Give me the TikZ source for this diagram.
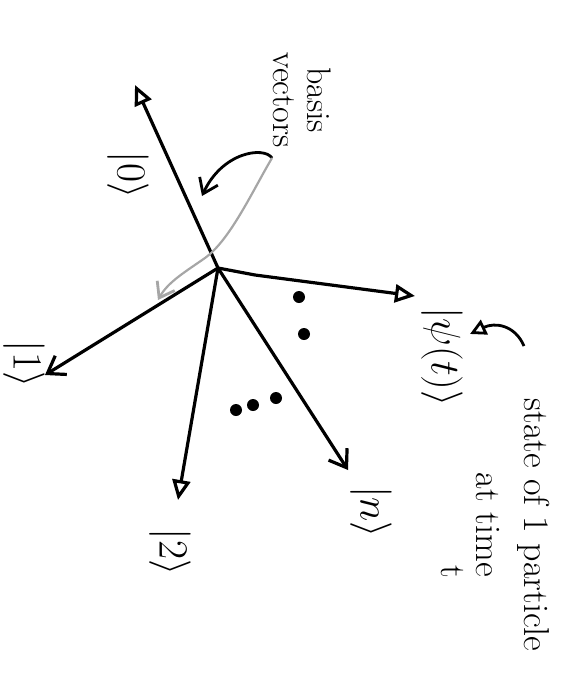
\documentclass[tikz,border=0pt]{standalone}
\usepackage{amsmath,amssymb}
\usepackage{tikz}
\usetikzlibrary{arrows.meta}
\usetikzlibrary{positioning,calc}
\tikzset{
  vec/.style={line width=1.6pt,-{Triangle[open,length=10pt,width=9pt,line width=1.6pt]}},
  vecbarb/.style={line width=1.6pt,-{Straight Barb[length=8pt,width=11pt,line width=1.6pt]}},
  ketlbl/.style={rotate=-90,font=\fontsize{22}{26}\selectfont},
  notelbl/.style={rotate=-90,align=center,font=\fontsize{18}{24}\selectfont},
  notearrow/.style={line width=1.4pt,-{Straight Barb[length=7pt,width=10pt,line width=1.4pt]}}
}

\begin{document}
\begin{tikzpicture}[x=0.5pt,y=-0.5pt]
    \useasboundingbox (0,0) rectangle (580,675);
    % origin and tips of the basis vectors
    \coordinate (o) at (218,268);
    \coordinate (e0) at (135,85);
    \coordinate (e1) at (45,375);
    \coordinate (e2) at (178,500);
    \coordinate (en) at (348,470);
    \coordinate (psi) at (415,296);
    % basis vectors
    \draw[vec] (o) -- (e0);
    \draw[vecbarb] (o) -- (e1);
    \draw[vec] (o) -- (e2);
    \draw[vecbarb] (o) -- (en);
    % the state vector
    \draw[vec] (o) -- (255,275) -- (psi);
    % ket labels
    \node[ketlbl] (k0) at (128,175) {$|0\rangle$};
    \node[ketlbl] (k1) at (24,364) {$|1\rangle$};
    \node[ketlbl] (k2) at (170,552) {$|2\rangle$};
    \node[ketlbl] (kn) at (371,512) {$|n\rangle$};
    \node[ketlbl] (kpsi) at (442,357) {$|\psi(t)\rangle$};
    % dots
    \foreach \p in {(299,297),(304,334),(236,410),(253,405),(276,398)}
      \fill \p circle (3pt);
    % basis vectors note
    \node[notelbl,font=\fontsize{17}{17}\selectfont] (basislbl) at (302,100) {basis\\vectors};
    \coordinate (bs) at (272,158);
    \coordinate (bt0) at (202,196);
    \coordinate (bt1) at (158,300);
    \draw[notearrow] (bs) .. controls (264,146) and (222,152) .. (bt0);
    \draw[notearrow,gray!70,line width=1.1pt] (bs) .. controls (252,192) and (230,240) .. (205,258)
      .. controls (185,272) and (168,282) .. (bt1);
    % state note
    \node[notelbl] (statelbl) at (513,525) {state of 1 particle\\at time};
    \node[notelbl] (timelbl) at (452,572) {t};
    \coordinate (ss) at (524,346);
    \coordinate (st) at (470,334);
    \draw[line width=1.4pt,-{Triangle[open,length=8pt,width=8pt,line width=1.4pt]}]
      (ss) .. controls (515,325) and (495,322) .. (st);
\end{tikzpicture}
\end{document}
